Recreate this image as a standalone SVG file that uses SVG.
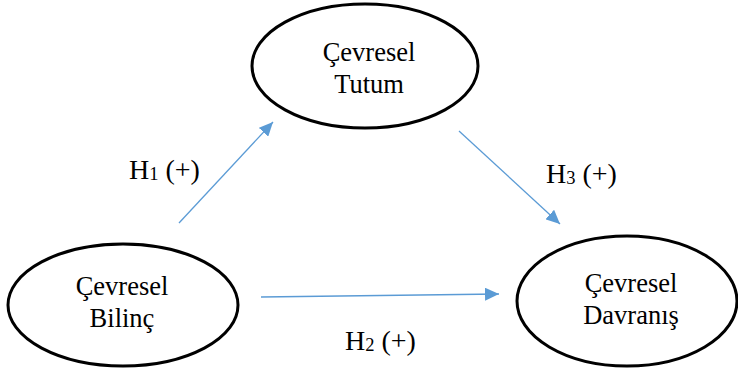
<svg xmlns="http://www.w3.org/2000/svg" width="738" height="369" viewBox="0 0 738 369">
<style>
.node{fill:#fff;stroke:#000;stroke-width:3}
.t{font-family:"Liberation Serif","Times New Roman",serif;font-size:26.5px;fill:#000;text-anchor:middle}
.lbl{font-family:"Liberation Serif","Times New Roman",serif;font-size:28px;fill:#000}
.sub{font-size:18.5px}
.edge{stroke:#5B9BD5;stroke-width:1.3;fill:none;marker-end:url(#ah)}
</style>
<defs>
<marker id="ah" viewBox="0 0 10 10" refX="10" refY="5" markerWidth="14" markerHeight="13" markerUnits="userSpaceOnUse" orient="auto" preserveAspectRatio="none">
<path d="M0,0 L10,5 L0,10 z" fill="#5B9BD5"/>
</marker>
</defs>
<rect width="738" height="369" fill="#fff"/>
<g id="connectors">
<line class="edge" x1="179" y1="223" x2="273" y2="122"/>
<line class="edge" x1="459" y1="131" x2="560" y2="224"/>
<line class="edge" x1="261" y1="297" x2="499" y2="294"/>
</g>
<g id="labels">
<text class="lbl" x="129" y="179">H<tspan class="sub" dy="1">1</tspan><tspan dy="-1"> (+)</tspan></text>
<text class="lbl" x="546" y="183">H<tspan class="sub" dy="1">3</tspan><tspan dy="-1"> (+)</tspan></text>
<text class="lbl" x="345" y="350">H<tspan class="sub" dy="1">2</tspan><tspan dy="-1"> (+)</tspan></text>
</g>
<g id="node-tutum">
<ellipse class="node" cx="365" cy="66" rx="113" ry="62"/>
<text class="t" x="369" y="61">Çevresel</text>
<text class="t" x="369" y="93">Tutum</text>
</g>
<g id="node-bilinc">
<ellipse class="node" cx="123" cy="305" rx="115" ry="61"/>
<text class="t" x="122" y="295">Çevresel</text>
<text class="t" x="122" y="327">Bilinç</text>
</g>
<g id="node-davranis">
<ellipse class="node" cx="627" cy="301" rx="110" ry="65"/>
<text class="t" x="631" y="292">Çevresel</text>
<text class="t" x="631" y="324">Davranış</text>
</g>
</svg>
